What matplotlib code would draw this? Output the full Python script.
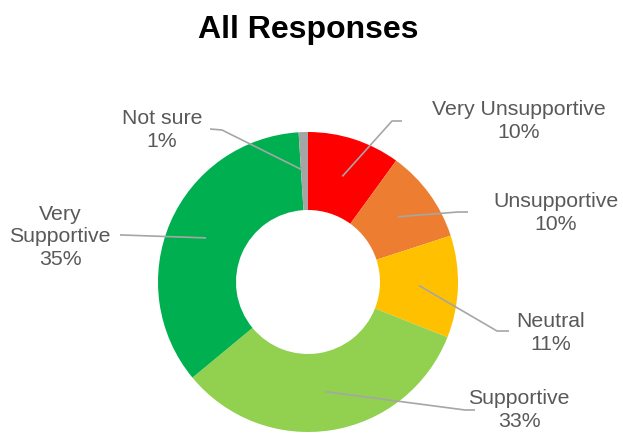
import numpy as np
import matplotlib
matplotlib.use("Agg")
import matplotlib.pyplot as plt

plt.rcParams["font.family"] = ["Liberation Sans", "DejaVu Sans"]

categories = ["Very Unsupportive", "Unsupportive", "Neutral", "Supportive",
              "Very\nSupportive", "Not sure"]
shares = [10, 10, 11, 33, 35, 1]
colors = ["#FF0000", "#ED7D31", "#FFC000", "#92D050", "#00B050", "#A5A5A5"]

# label placement (pixel coords, y from top) and leader elbow points
label_pos = [(519, 121), (556, 213), (551, 333), (519, 410), (60, 237), (162, 130)]
elbows = [[(392, 122), (402, 122)], [(458, 213), (468, 213)],
          [(497, 332), (509, 332)], [(465, 411), (475, 411)],
          [(122, 236), (120, 236)], [(222, 131), (210, 130)]]

W, H = 623, 435
fig = plt.figure(figsize=(W / 100, H / 100), dpi=100)
ax = fig.add_axes([0, 0, 1, 1])

cx, cy = 308, H - 283
r_out, r_in = 150, 72

wedges, _ = ax.pie(shares, colors=colors, startangle=90, counterclock=False,
                   radius=r_out, center=(cx, cy), frame=True,
                   wedgeprops=dict(width=r_out - r_in, linewidth=0))
ax.set_xlim(0, W)
ax.set_ylim(0, H)
ax.set_aspect("equal")
ax.axis("off")

total = sum(shares)
r_mid = (r_out + r_in) / 2
start = 0
for cat, val, (lx, ly), elb in zip(categories, shares, label_pos, elbows):
    mid = (start + val / 2) / total * 2 * np.pi
    start += val
    px = cx + r_mid * np.sin(mid)
    py = cy + r_mid * np.cos(mid)
    xs = [px] + [e[0] for e in elb]
    ys = [py] + [H - e[1] for e in elb]
    ax.plot(xs, ys, color="#A6A6A6", lw=1.2, solid_capstyle="butt")
    ax.text(lx, H - ly, f"{cat}\n{val}%", ha="center", va="center",
            fontsize=15.3, color="#595959", linespacing=1.22)

ax.text(308, H - 30, "All Responses", ha="center", va="center",
        fontsize=23, fontweight="bold", color="black")

fig.savefig("out.png", dpi=100)
